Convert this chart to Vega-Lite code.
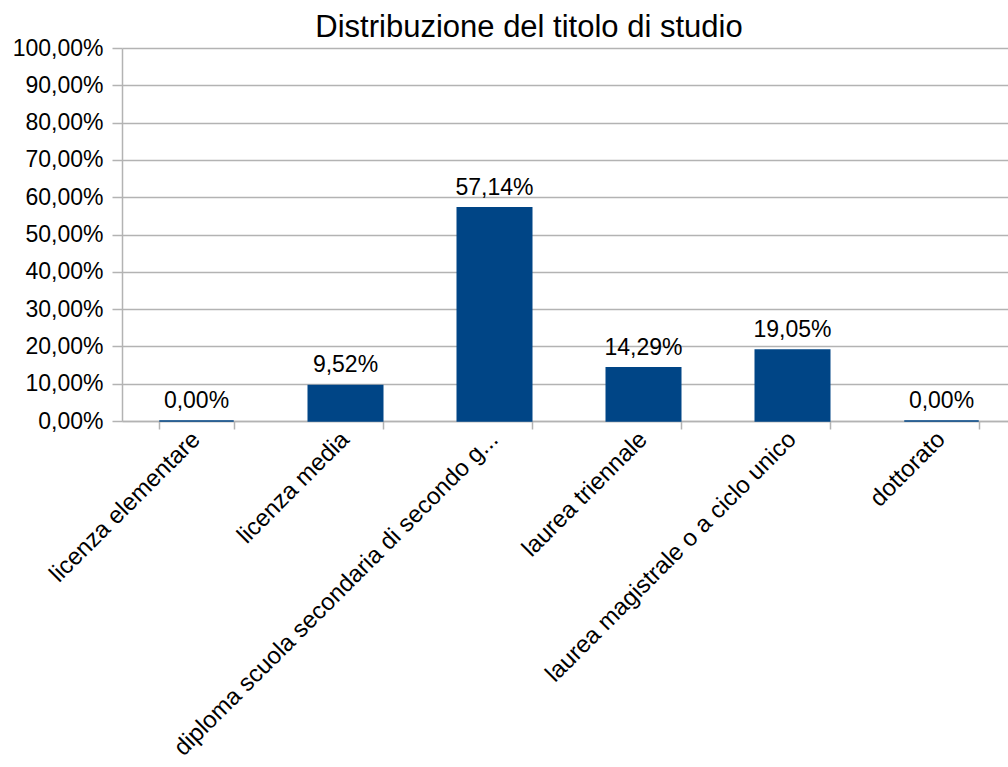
{
  "$schema": "https://vega.github.io/schema/vega-lite/v6.json",
  "autosize": {"type": "none"},
  "padding": {"left": 122, "top": 48, "right": 0, "bottom": 346},
  "width": 886,
  "height": 373,
  "config": {
    "locale": {"number": {"decimal": ",", "thousands": ".", "grouping": [3], "currency": ["€", ""]}},
    "font": "Liberation Sans",
    "view": {"stroke": null}
  },
  "title": {
    "text": "Distribuzione del titolo di studio",
    "fontSize": 31,
    "fontWeight": "normal",
    "color": "#000000",
    "anchor": "middle",
    "dx": -36,
    "dy": 11,
    "offset": 4,
    "font": "Liberation Sans"
  },
  "data": {
    "values": [
      {"titolo": "licenza elementare", "quota": 0.0},
      {"titolo": "licenza media", "quota": 0.0952},
      {"titolo": "diploma scuola secondaria di secondo grado", "quota": 0.5714},
      {"titolo": "laurea triennale", "quota": 0.1429},
      {"titolo": "laurea magistrale o a ciclo unico", "quota": 0.1905},
      {"titolo": "dottorato", "quota": 0.0}
    ]
  },
  "encoding": {
    "x": {
      "field": "titolo",
      "type": "nominal",
      "sort": null,
      "scale": {"range": [0, 894], "paddingInner": 0.5, "paddingOuter": 0.25},
      "axis": {
        "title": null,
        "labelAngle": -45,
        "labelFontSize": 24,
        "labelColor": "#000000",
        "labelFont": "Liberation Sans",
        "labelLimit": 800,
        "labelPadding": -2,
        "labelOffset": -9,
        "labelExpr": "length(datum.label) > 38 ? substring(datum.label, 0, 38) + '...' : datum.label",
        "tickBand": "extent",
        "tickSize": 8,
        "tickColor": "#b3b3b3",
        "domainColor": "#b3b3b3",
        "tickWidth": 1.5,
        "domainWidth": 1.5
      }
    },
    "y": {
      "field": "quota",
      "type": "quantitative",
      "scale": {"domain": [0, 1], "nice": false},
      "axis": {
        "title": null,
        "format": ".2%",
        "values": [0, 0.1, 0.2, 0.3, 0.4, 0.5, 0.6, 0.7, 0.8, 0.9, 1],
        "labelFontSize": 23,
        "labelColor": "#000000",
        "labelFont": "Liberation Sans",
        "labelPadding": 9,
        "tickSize": 10,
        "tickColor": "#b3b3b3",
        "domainColor": "#b3b3b3",
        "gridColor": "#b3b3b3",
        "gridWidth": 1.5,
        "tickWidth": 1.5,
        "domainWidth": 1.5,
        "grid": true
      }
    }
  },
  "layer": [
    {
      "mark": {"type": "bar", "color": "#004586", "stroke": "#004586", "strokeWidth": 1.5}
    },
    {
      "mark": {"type": "text", "baseline": "alphabetic", "dy": -13, "fontSize": 23, "color": "#000000", "font": "Liberation Sans"},
      "encoding": {"text": {"field": "quota", "type": "quantitative", "format": ".2%"}}
    }
  ]
}
